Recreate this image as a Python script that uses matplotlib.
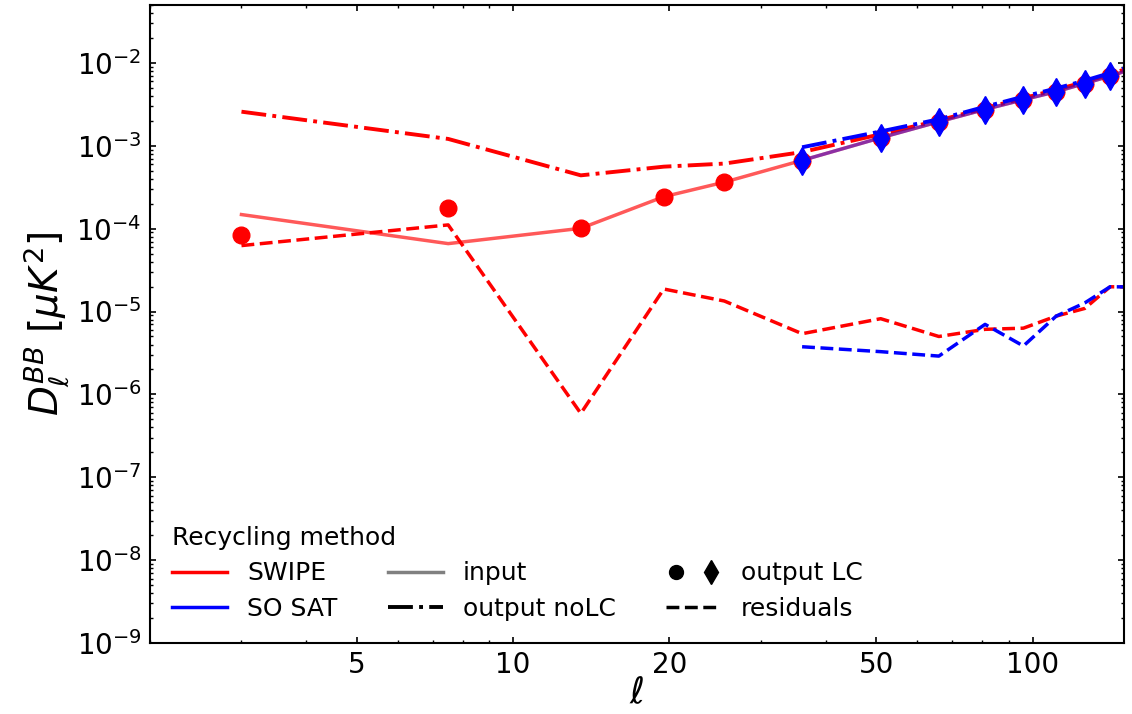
import numpy as np
import matplotlib
matplotlib.use("Agg")
from matplotlib import pyplot as plt
from matplotlib.lines import Line2D
from matplotlib.legend_handler import HandlerTuple

# binned multipoles
ell_swipe = [3, 7.5, 13.5, 19.5, 25.5, 36, 51, 66, 81, 96, 111, 126, 141, 156]
ell_so = [36, 51, 66, 81, 96, 111, 126, 141, 156]

# SWIPE spectra
swipe_input = [1.48e-4, 6.6e-5, 1.01e-4, 2.43e-4, 3.64e-4, 6.67e-4, 1.25e-3,
               1.95e-3, 2.75e-3, 3.6e-3, 4.5e-3, 5.65e-3, 6.95e-3, 8.5e-3]
swipe_lc = [8.5e-5, 1.76e-4, 1.01e-4, 2.43e-4, 3.64e-4, 6.5e-4, 1.25e-3,
            1.95e-3, 2.72e-3, 3.6e-3, 4.5e-3, 5.6e-3, 6.9e-3, 8.4e-3]
swipe_nolc = [2.58e-3, 1.21e-3, 4.4e-4, 5.6e-4, 6.1e-4, 8.4e-4, 1.38e-3,
              2.02e-3, 2.85e-3, 3.75e-3, 4.75e-3, 5.9e-3, 7.3e-3, 9.0e-3]
swipe_res = [6.25e-5, 1.11e-4, 5.9e-7, 1.87e-5, 1.34e-5, 5.4e-6, 8.2e-6,
             5.0e-6, 6.1e-6, 6.3e-6, 8.8e-6, 1.09e-5, 1.99e-5, 1.98e-5]

# SO SAT spectra
so_input = [6.67e-4, 1.25e-3, 1.95e-3, 2.75e-3, 3.6e-3, 4.5e-3, 5.65e-3, 6.95e-3, 8.5e-3]
so_lc = [6.5e-4, 1.24e-3, 1.95e-3, 2.72e-3, 3.6e-3, 4.5e-3, 5.64e-3, 6.95e-3, 8.5e-3]
so_nolc = [9.6e-4, 1.49e-3, 2.09e-3, 2.96e-3, 3.92e-3, 4.92e-3, 6.12e-3, 7.55e-3, 9.3e-3]
so_res = [3.76e-6, 3.28e-6, 2.9e-6, 7.0e-6, 3.84e-6, 8.8e-6, 1.27e-5, 1.99e-5, 1.98e-5]

red = '#ff0000'
blue = '#0000ff'

fig = plt.figure(figsize=(11.32, 7.14), dpi=100)
ax = fig.add_axes([0.1325, 0.0994, 0.8605, 0.8936])

# SWIPE
ax.plot(ell_swipe, swipe_input, '-', color=red, lw=2.5, alpha=0.65)
ax.plot(ell_swipe, swipe_nolc, '-.', color=red, lw=2.8)
ax.plot(ell_swipe, swipe_lc, 'o', color=red, ms=12)
ax.plot(ell_swipe, swipe_res, '--', color=red, lw=2.5)

# SO SAT
ax.plot(ell_so, so_input, '-', color=blue, lw=2.5, alpha=0.45)
ax.plot(ell_so, so_nolc, '-.', color=blue, lw=2.8)
ax.plot(ell_so, so_lc, 'd', color=blue, ms=14)
ax.plot(ell_so, so_res, '--', color=blue, lw=2.5)

ax.set_xscale('log')
ax.set_yscale('log')
ax.set_xlim(2, 150)
ax.set_ylim(1e-9, 5e-2)

ax.set_xticks([5, 10, 20, 50, 100])
ax.set_xticklabels(['5', '10', '20', '50', '100'])
ax.set_yticks([10.0**k for k in range(-9, -1)])

ax.tick_params(which='both', direction='in', top=True, right=True)
ax.tick_params(which='major', length=4, width=1.2, labelsize=20, pad=6)
ax.tick_params(which='minor', length=2.5, width=1)
for s in ax.spines.values():
    s.set_linewidth(1.5)

ax.set_xlabel(r'$\ell$', fontsize=26, labelpad=-2)
ax.set_ylabel(r'$D_\ell^{BB}\ [\mu K^2]$', fontsize=28, labelpad=4)

# legend
h_swipe = Line2D([], [], color=red, lw=2.5)
h_so = Line2D([], [], color=blue, lw=2.5)
h_input = Line2D([], [], color='gray', lw=2.5)
h_nolc = Line2D([], [], color='black', ls='-.', lw=2.8)
h_lc = (Line2D([], [], color='black', marker='o', ls='', ms=10),
        Line2D([], [], color='black', marker='d', ls='', ms=12))
h_res = Line2D([], [], color='black', ls='--', lw=2.5)

handles = [h_swipe, h_so, h_input, h_nolc, h_lc, h_res]
labels = ['SWIPE', 'SO SAT', 'input', 'output noLC', 'output LC', 'residuals']
leg = ax.legend(handles, labels, ncol=3, loc='lower left', frameon=False,
                fontsize=18, title='Recycling method', title_fontsize=18,
                handlelength=2.2, columnspacing=2.0, handletextpad=0.8,
                labelspacing=0.45, borderaxespad=0.5,
                handler_map={tuple: HandlerTuple(ndivide=None, pad=0.6)})
leg._legend_box.align = 'left'

fig.savefig('out.png', dpi=100)
